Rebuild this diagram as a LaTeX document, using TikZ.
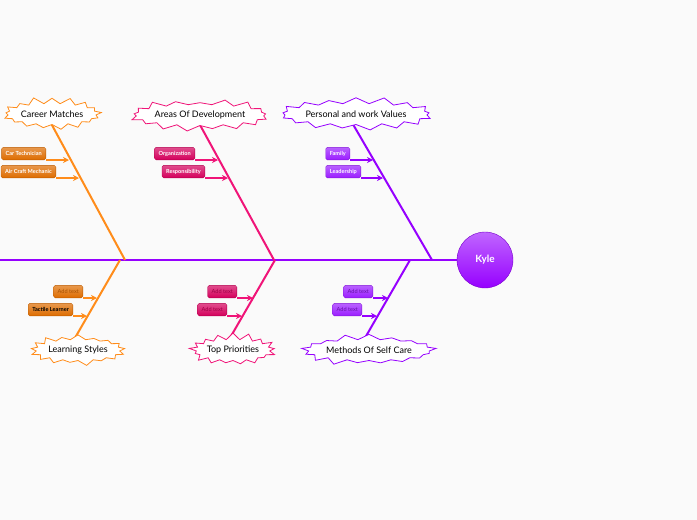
\documentclass[tikz,border=0pt]{standalone}
\usepackage{fontspec}
\setmainfont{Lato}
\usetikzlibrary{
    shapes.symbols,
    arrows.meta,
    backgrounds
}
\definecolor{fishorange}{RGB}{255,140,26}
\definecolor{fishpink}{RGB}{240,20,120}
\definecolor{fishpurple}{RGB}{150,0,255}
\definecolor{boxorange}{RGB}{222,108,0}
\definecolor{boxpink}{RGB}{212,0,92}
\definecolor{boxpurple}{RGB}{155,30,255}

\begin{document}
\begin{tikzpicture}[
        x=1pt, y=-1pt,
        cause/.style={starburst, starburst points=17, starburst point height=7pt, random starburst=#1,
            fill=white, line width=0.8pt, inner sep=0pt, minimum height=35pt, font=\fontsize{9}{10}\selectfont},
        item/.style={rounded corners=1.5pt, top color=#1!70!white, bottom color=#1, draw=#1!85!black, line width=0.3pt,
            minimum height=12.5pt, inner xsep=4pt, inner ysep=1pt, font=\fontsize{5.6}{6}\selectfont\bfseries, text=white},
        bone/.style={draw=#1, line width=2pt},
        arrow/.style={-{Stealth[length=6pt, width=6pt]}, line width=1.4pt, draw=#1}
    ]
        \useasboundingbox (0,0) rectangle (697,520);
        \clip (0,0) rectangle (697,520);

        % Head
        \node[circle, minimum size=56pt, top color=fishpurple!60!white, bottom color=fishpurple, draw=fishpurple!80!black,
            line width=0.4pt, text=white, font=\fontsize{10}{12}\selectfont\bfseries] (kyle) at (485,260) {Kyle};

        % Causes, top
        \node[cause=11, draw=fishorange, minimum width=94pt] (career) at (52,114) {Career Matches};
        \node[cause=23, draw=fishpink, minimum width=132pt] (areas) at (200,115) {Areas Of Development};
        \node[cause=37, draw=fishpurple, minimum width=143pt] (values) at (356,114) {Personal and work Values};

        % Causes, bottom
        \node[cause=41, draw=fishorange, minimum width=94pt] (learning) at (78,350) {Learning Styles};
        \node[cause=53, draw=fishpink, minimum width=80pt] (priorities) at (233,350) {Top Priorities};
        \node[cause=67, draw=fishpurple, minimum width=125pt] (selfcare) at (369,350) {Methods Of Self Care};

        % Spine and bones
        \coordinate (tail) at (0,260);
        \coordinate (cmjoin) at (125,260);
        \coordinate (adjoin) at (274,260);
        \coordinate (pvjoin) at (432,260);
        \coordinate (lsjoin) at (120,260);
        \coordinate (tpjoin) at (275,260);
        \coordinate (scjoin) at (410,260);
        \coordinate (cmtip) at (46,114);
        \coordinate (adtip) at (194,114);
        \coordinate (pvtip) at (347,114);
        \coordinate (lstip) at (68,350);
        \coordinate (tptip) at (223,350);
        \coordinate (sctip) at (358,350);

        \begin{scope}[on background layer]
            \fill[white!98!black] (0,0) rectangle (697,520);
            \draw[bone=fishpurple, line width=2.5pt] (tail) -- (kyle);
            \draw[bone=fishorange] (cmtip) -- (cmjoin);
            \draw[bone=fishorange] (lstip) -- (lsjoin);
            \draw[bone=fishpink] (adtip) -- (adjoin);
            \draw[bone=fishpink] (tptip) -- (tpjoin);
            \draw[bone=fishpurple] (pvtip) -- (pvjoin);
            \draw[bone=fishpurple] (sctip) -- (scjoin);
        \end{scope}

        % Sub-causes
        \node[item=boxorange, anchor=south east] (cartech) at (46,160) {Car Technician};
        \node[item=boxorange, anchor=south east] (aircraft) at (56,178) {Air Craft Mechanic};
        \node[item=boxpink, anchor=south east] (organization) at (195,160) {Organization};
        \node[item=boxpink, anchor=south east] (responsibility) at (205,178) {Responsibility};
        \node[item=boxpurple, anchor=south east] (family) at (350,160) {Family};
        \node[item=boxpurple, anchor=south east] (leadership) at (361,178) {Leadership};

        \node[item=boxorange, anchor=south east, text=boxorange!75!black, font=\fontsize{5.6}{6}\selectfont] (lsadd) at (83,298) {Add text};
        \node[item=boxorange, anchor=south east, text=black] (tactile) at (73,316) {Tactile Learner};
        \node[item=boxpink, anchor=south east, text=boxpink!75!black, font=\fontsize{5.6}{6}\selectfont] (tpadda) at (237,298) {Add text};
        \node[item=boxpink, anchor=south east, text=boxpink!75!black, font=\fontsize{5.6}{6}\selectfont] (tpaddb) at (227,316) {Add text};
        \node[item=boxpurple, anchor=south east, text=boxpurple!65!black, font=\fontsize{5.6}{6}\selectfont] (scadda) at (373,298) {Add text};
        \node[item=boxpurple, anchor=south east, text=boxpurple!65!black, font=\fontsize{5.6}{6}\selectfont] (scaddb) at (362,316) {Add text};

        % Arrows
        \foreach \i/\c/\l in {cartech/fishorange/23, aircraft/fishorange/23, organization/fishpink/23,
            responsibility/fishpink/23, family/fishpurple/23, leadership/fishpurple/22,
            lsadd/fishorange/14, tactile/fishorange/14, tpadda/fishpink/16, tpaddb/fishpink/15,
            scadda/fishpurple/15, scaddb/fishpurple/15} {
            \draw[arrow=\c] (\i.south east) -- ++(\l,0);
        }

    \end{tikzpicture}
\end{document}
